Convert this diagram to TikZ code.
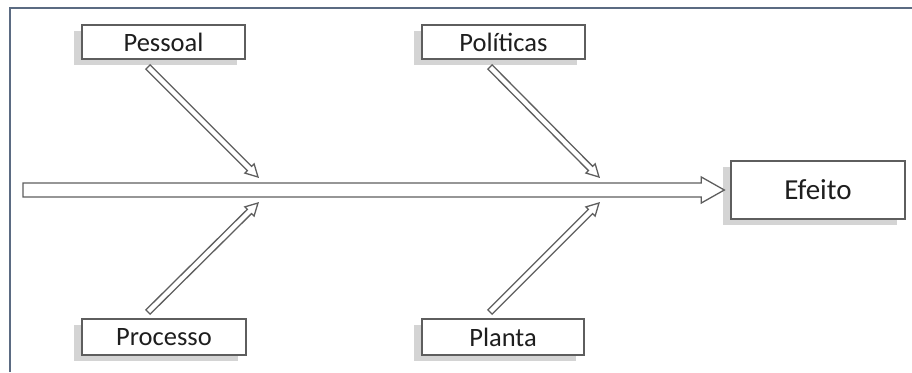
\documentclass[tikz,border=0pt]{standalone}
\usepackage{fontspec}
\setmainfont{Carlito}
\usepackage{tikz}
\usetikzlibrary{calc, shadows, positioning}

\definecolor{framecol}{HTML}{5B6B82}
\definecolor{edgecol}{HTML}{5E5E5E}
\definecolor{textcol}{HTML}{1E1E1E}
\definecolor{shadecol}{HTML}{D4D4D4}

\tikzset{
  cause/.style={draw=edgecol, line width=1.4pt, fill=white, text=textcol,
    font=\fontsize{26.5}{30}\selectfont,
    drop shadow={shadow xshift=-8pt, shadow yshift=-6pt, fill=shadecol, opacity=1}},
  effect/.style={cause, font=\fontsize{29}{34}\selectfont, minimum width=174pt, minimum height=58pt},
  hollow/.style={draw=edgecol, line width=1.3pt, fill=white, line join=miter}
}

\newcommand{\hollowarrow}[5]{%
  \draw[hollow] ($(#1)!#3pt!90:(#2)$) -- ($($(#2)!#5pt!(#1)$)!#3pt!90:(#2)$)
    -- ($($(#2)!#5pt!(#1)$)!#4pt!90:(#2)$) -- (#2)
    -- ($($(#2)!#5pt!(#1)$)!#4pt!-90:(#2)$) -- ($($(#2)!#5pt!(#1)$)!#3pt!-90:(#2)$)
    -- ($(#1)!#3pt!-90:(#2)$) -- cycle;}

\begin{document}
\begin{tikzpicture}[x=1pt, y=-1pt]
\useasboundingbox (0,0) rectangle (912,372);
\draw[framecol, line width=1.3pt] (10,372) -- (10,8) -- (912,8);

\node[cause, minimum width=163pt, minimum height=34pt] (pessoal) at (163.5,42) {Pessoal};
\node[cause, minimum width=163pt, minimum height=34pt] (politicas) at (503.5,42) {Políticas};
\node[cause, minimum width=164pt, minimum height=36pt] (processo) at (164,337) {Processo};
\node[cause, minimum width=162pt, minimum height=36pt] (planta) at (503,337) {Planta};
\node[effect] (efeito) at (818,190) {Efeito};

\coordinate (spine-a) at (23,190);
\coordinate (spine-b) at ($(efeito.west)+(-6,0)$);
\coordinate (pes-a) at (148,67);
\coordinate (pes-b) at (258,177);
\coordinate (pol-a) at (490,67);
\coordinate (pol-b) at (599,177);
\coordinate (pro-a) at (148,312);
\coordinate (pro-b) at (258,203);
\coordinate (pla-a) at (490,312);
\coordinate (pla-b) at (599,203);

\hollowarrow{spine-a}{spine-b}{7}{13}{23}
\hollowarrow{pes-a}{pes-b}{3}{6.5}{12}
\hollowarrow{pol-a}{pol-b}{3}{6.5}{12}
\hollowarrow{pro-a}{pro-b}{3}{6.5}{12}
\hollowarrow{pla-a}{pla-b}{3}{6.5}{12}
\end{tikzpicture}
\end{document}
